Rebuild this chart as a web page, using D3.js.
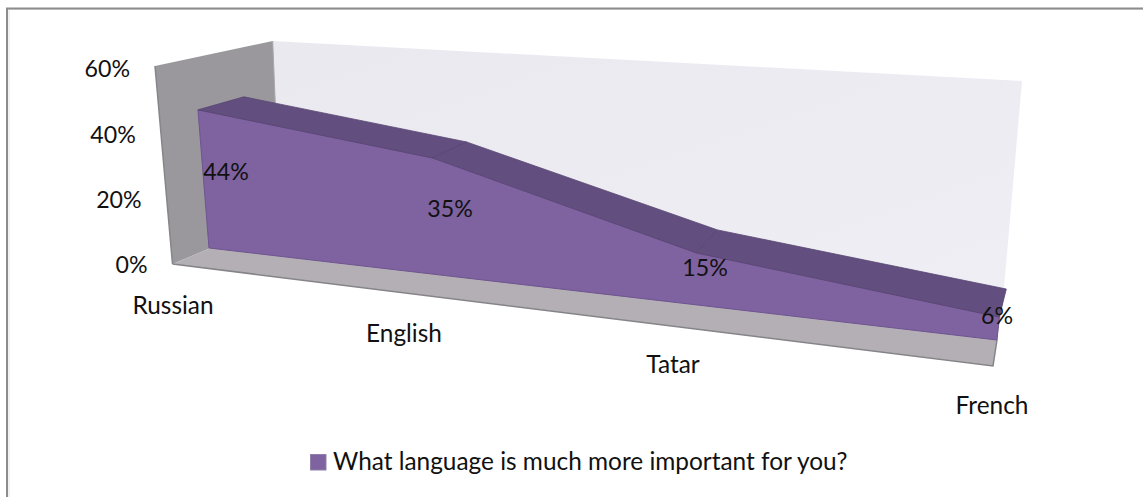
<!DOCTYPE html>
<html lang="en">
<head>
<meta charset="UTF-8">
<title>What language is much more important for you?</title>
<script src="https://d3js.org/d3.v7.min.js"></script>
<style>
  html, body { margin: 0; padding: 0; background: #fff; }
  svg { display: block; }
  text { font-family: Lato, "Open Sans", sans-serif; font-size: 24.4px; fill: #111; }
  .tick-label, .data-label { font-size: 23.2px; }
</style>
</head>
<body>
<svg id="chart" width="1143" height="497"></svg>
<script>
const categories = ["Russian", "English", "Tatar", "French"];
const values = [44, 35, 15, 6];
const valueTicks = [0, 20, 40, 60];
const seriesName = "What language is much more important for you?";

const svg = d3.select("#chart");

// the 3D look is faked with one scale per category slot (perspective steps get wider to the right)
const slot = categories.map((d, i) => i);
const baseX = d3.scaleLinear().domain(slot).range([209, 436, 695, 997]);
const baseY = d3.scaleLinear().domain(slot).range([248, 274.5, 304.7, 340]);
const pxPerPct = d3.scaleLinear().domain(slot).range([3.14, 3.33, 3.45, 3.83]);
const lean = d3.scaleLinear().domain(slot).range([-0.08, -0.03, 0.03, 0.1]);
const depthX = d3.scaleLinear().domain(slot).range([46, 34, 21, 7]);
const depthY = d3.scaleLinear().domain(slot).range([-13, -16, -23, -28]);

// front face point at category i and value v
function front(i, v) {
  const h = pxPerPct(i) * v;
  return [baseX(i) + lean(i) * h, baseY(i) - h];
}
function back(i, v) {
  const p = front(i, v);
  return [p[0] + depthX(i), p[1] + depthY(i)];
}

const poly = d3.line();

const defs = svg.append("defs");
const wallGrad = defs.append("linearGradient").attr("id", "backwall")
  .attr("x1", "0%").attr("y1", "0%").attr("x2", "100%").attr("y2", "100%");
wallGrad.append("stop").attr("offset", "0%").attr("stop-color", "#ebe9f0");
wallGrad.append("stop").attr("offset", "100%").attr("stop-color", "#f0eef5");

// chart frame, only top and left edges show
svg.append("path")
  .attr("d", poly([[9, 497], [9, 9.5], [1143, 9.5]]))
  .attr("fill", "none").attr("stroke", "#e4e4e4").attr("stroke-width", 1);
svg.append("path")
  .attr("d", poly([[7, 497], [7, 8.5], [1143, 8.5]]))
  .attr("fill", "none").attr("stroke", "#8c8c8c").attr("stroke-width", 2);

// walls and floor
svg.append("path").attr("d", poly([[272.7, 41], [1022, 81], [1003, 300], [280, 219]]) + "Z")
  .attr("fill", "url(#backwall)");
svg.append("path").attr("d", poly([[155, 66], [272.7, 41], [280, 219], [172.5, 264]]) + "Z")
  .attr("fill", "#9a989c");
svg.append("path").attr("d", poly([[155, 66], [172.5, 264]]))
  .attr("stroke", "#87858a").attr("stroke-width", 1.5);
svg.append("path").attr("d", poly([[272.7, 41], [280, 219]]))
  .attr("stroke", "#a9a7ac").attr("stroke-width", 1);
svg.append("path").attr("d", poly([[172.5, 264], [280, 219], [1003, 300], [993, 366]]) + "Z")
  .attr("fill", "#b3afb4");
svg.append("path").attr("d", poly([[172.5, 264], [993, 366], [997, 340]]))
  .attr("fill", "none").attr("stroke", "#868488").attr("stroke-width", 1.5);

// area front face
const frontTop = values.map((v, i) => front(i, v));
const frontBase = values.map((v, i) => front(i, 0));
svg.append("path")
  .attr("d", poly(frontTop.concat(frontBase.slice().reverse())) + "Z")
  .attr("fill", "#7f62a0").attr("stroke", "#6f5590").attr("stroke-width", 1);

// area top band, one quad per segment, the stroke leaves the seams visible
d3.range(values.length - 1).forEach(i => {
  svg.append("path")
    .attr("d", poly([front(i, values[i]), back(i, values[i]), back(i + 1, values[i + 1]), front(i + 1, values[i + 1])]) + "Z")
    .attr("fill", "#634e80").attr("stroke", "#574570").attr("stroke-width", 0.8);
});

// value axis labels, stepped along the left wall
const tickY = d3.scaleLinear().domain([0, 60]).range([265, 69]);
const tickRight = d3.scaleLinear().domain([0, 60]).range([147.5, 130]);
svg.selectAll(".tick-label").data(valueTicks).enter().append("text")
  .attr("class", "tick-label")
  .attr("x", d => tickRight(d))
  .attr("y", d => tickY(d))
  .attr("dy", "0.36em")
  .attr("text-anchor", "end")
  .text(d => d + "%");

// category labels
const labelX = d3.scaleLinear().domain(slot).range([173, 404, 673, 992]);
const labelY = d3.scaleLinear().domain(slot).range([305, 333, 364, 405]);
svg.selectAll(".cat-label").data(categories).enter().append("text")
  .attr("class", "cat-label")
  .attr("x", (d, i) => labelX(i))
  .attr("y", (d, i) => labelY(i))
  .attr("dy", "0.36em")
  .attr("text-anchor", "middle")
  .text(d => d);

// data labels
const dataX = d3.scaleLinear().domain(slot).range([226, 450, 705, 997]);
const dataY = d3.scaleLinear().domain(slot).range([172, 209, 268, 316]);
svg.selectAll(".data-label").data(values).enter().append("text")
  .attr("class", "data-label")
  .attr("x", (d, i) => dataX(i))
  .attr("y", (d, i) => dataY(i))
  .attr("dy", "0.36em")
  .attr("text-anchor", "middle")
  .text(d => d + "%");

// legend
svg.append("rect").attr("x", 310.5).attr("y", 454.5).attr("width", 15.5).attr("height", 15.5)
  .attr("fill", "#7f62a0").attr("stroke", "#8f80a8").attr("stroke-width", 1);
svg.append("text").attr("x", 333).attr("y", 470).text(seriesName);
</script>
</body>
</html>
